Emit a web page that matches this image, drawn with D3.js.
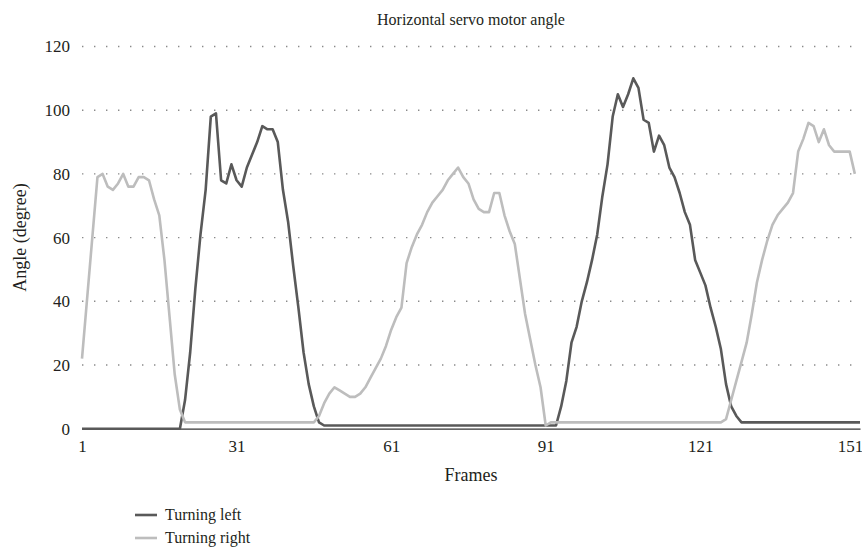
<!DOCTYPE html>
<html lang="en">
  <head>
    <script src="https://d3js.org/d3.v7.min.js"></script>
    <meta charset="utf-8"/>
    <title>Horizontal servo motor angle</title>
  </head>
  <body style="margin:0;background:#fff">
    <svg id="chart"></svg>
  </body>

  <style>
  text { font-family: "Liberation Serif", "DejaVu Serif", serif; fill: #231f20; }
  .line { fill: none; stroke-width: 2.6px; stroke-linejoin: round; stroke-linecap: butt; }
  .grid line { stroke: #8a8a8a; stroke-width: 1.4px; stroke-dasharray: 1.4, 10.6; }
  </style>

  <script>
    const width = 862;
    const height = 556;

    // frame numbers 1..152 (category axis)
    const frames = d3.range(1, 153);
    const xTicks = [1, 31, 61, 91, 121, 151];
    const yTicks = [0, 20, 40, 60, 80, 100, 120];

    const turningLeft = [
      0, 0, 0, 0, 0, 0, 0, 0, 0, 0, 0, 0, 0, 0, 0, 0, 0, 0, 0, 0,
      9, 24, 44, 61, 75, 98, 99, 78, 77, 83, 78, 76, 82, 86, 90,
      95, 94, 94, 90, 75, 65, 51, 38, 24, 14, 7, 2,
      1, 1, 1, 1, 1, 1, 1, 1, 1, 1, 1, 1, 1, 1, 1, 1, 1, 1, 1, 1, 1, 1, 1,
      1, 1, 1, 1, 1, 1, 1, 1, 1, 1, 1, 1, 1, 1, 1, 1, 1, 1, 1, 1, 1, 1, 1,
      7, 15, 27, 32, 40, 46, 53, 61, 73, 83, 98, 105, 101, 105, 110,
      107, 97, 96, 87, 92, 89, 82, 79, 74, 68, 64, 53, 49, 45, 38,
      32, 25, 14, 7, 4,
      2, 2, 2, 2, 2, 2, 2, 2, 2, 2, 2, 2, 2, 2, 2, 2, 2, 2, 2, 2, 2, 2, 2, 2, 2
    ];

    const turningRight = [
      22, 41, 60, 79, 80, 76, 75, 77, 80, 76, 76, 79, 79, 78, 72, 67, 53, 35, 17, 6, 2,
      2, 2, 2, 2, 2, 2, 2, 2, 2, 2, 2, 2, 2, 2, 2, 2, 2, 2, 2, 2, 2, 2, 2, 2, 2,
      4, 8, 11, 13, 12, 11, 10, 10, 11, 13, 16, 19, 22, 26, 31,
      35, 38, 52, 57, 61, 64, 68, 71, 73, 75, 78, 80, 82, 79, 77,
      72, 69, 68, 68, 74, 74, 67, 62, 58, 47, 36, 28, 20, 13, 1,
      2, 2, 2, 2, 2, 2, 2, 2, 2, 2, 2, 2, 2, 2, 2, 2, 2,
      2, 2, 2, 2, 2, 2, 2, 2, 2, 2, 2, 2, 2, 2, 2, 2, 2,
      3, 9, 15, 21, 27, 36, 46, 53, 59, 64, 67, 69, 71, 74, 87,
      91, 96, 95, 90, 94, 89, 87, 87, 87, 87, 80
    ];

    const series = [
      { name: "Turning left", values: turningLeft, color: "#595959" },
      { name: "Turning right", values: turningRight, color: "#bdbdbd" }
    ];

    const margin = { top: 46.5, right: 2, bottom: 127.3, left: 82 };

    const svg = d3.select("#chart")
      .attr("width", width)
      .attr("height", height);

    const xScale = d3.scaleLinear()
      .domain([1, 152])
      .range([margin.left, width - margin.right]);
    const yScale = d3.scaleLinear()
      .domain([0, 120])
      .range([height - margin.bottom, margin.top]);

    // dotted gridlines
    svg.append("g")
      .attr("class", "grid")
      .selectAll("line")
      .data(yTicks.filter(d => d > 0))
      .enter()
      .append("line")
      .attr("x1", xScale(1))
      .attr("x2", xScale(152))
      .attr("y1", d => yScale(d))
      .attr("y2", d => yScale(d));

    // axes
    const xAxis = svg.append("g")
      .attr("transform", "translate(0," + yScale(0) + ")")
      .call(d3.axisBottom(xScale).tickValues(xTicks).tickSize(0).tickPadding(11));
    xAxis.select(".domain").attr("stroke", "#333").attr("stroke-width", 1.2);
    xAxis.selectAll("text").style("font-size", "17px").attr("fill", "#231f20");
    // last label would run past the edge, keep it inside like the original
    xAxis.selectAll(".tick").filter(d => d === 151).select("text")
      .attr("text-anchor", "end").attr("dx", 8);

    const yAxis = svg.append("g")
      .attr("transform", "translate(" + margin.left + ",0)")
      .call(d3.axisLeft(yScale).tickValues(yTicks).tickSize(0).tickPadding(12));
    yAxis.select(".domain").remove();
    yAxis.selectAll("text").style("font-size", "17px").attr("fill", "#231f20");

    // lines
    const line = d3.line()
      .x((d, i) => xScale(frames[i]))
      .y(d => yScale(d));

    svg.selectAll(".line")
      .data(series)
      .enter()
      .append("path")
      .attr("class", "line")
      .attr("stroke", d => d.color)
      .attr("d", d => line(d.values));

    // title and axis labels
    svg.append("text")
      .attr("x", (xScale(1) + xScale(152)) / 2)
      .attr("y", 25)
      .attr("text-anchor", "middle")
      .style("font-size", "16px")
      .text("Horizontal servo motor angle");

    svg.append("text")
      .attr("x", (xScale(1) + xScale(152)) / 2)
      .attr("y", 481)
      .attr("text-anchor", "middle")
      .style("font-size", "18px")
      .text("Frames");

    svg.append("text")
      .attr("transform", "translate(26," + ((yScale(0) + yScale(120)) / 2) + ") rotate(-90)")
      .attr("text-anchor", "middle")
      .style("font-size", "18px")
      .text("Angle (degree)");

    // legend
    const legend = svg.selectAll(".legend")
      .data(series)
      .enter()
      .append("g")
      .attr("class", "legend")
      .attr("transform", (d, i) => "translate(135," + (515 + i * 23) + ")");

    legend.append("line")
      .attr("x1", 0)
      .attr("x2", 22)
      .attr("stroke", d => d.color)
      .attr("stroke-width", 2.6);

    legend.append("text")
      .attr("x", 30)
      .attr("dy", "0.33em")
      .style("font-size", "16px")
      .text(d => d.name);
  </script>
</html>
